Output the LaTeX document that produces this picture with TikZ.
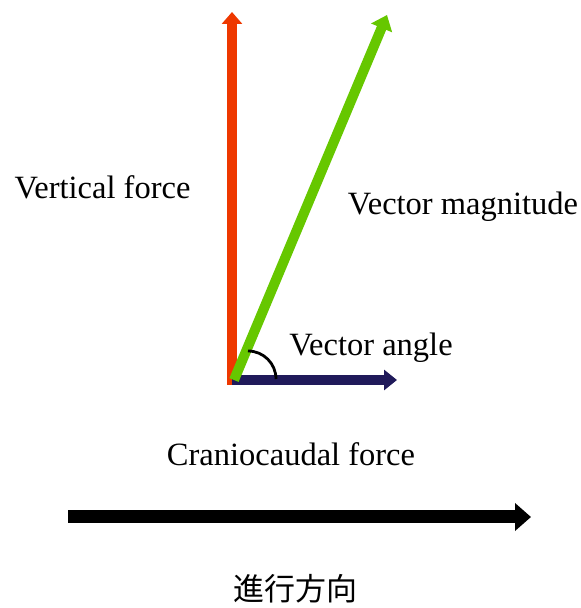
\documentclass[tikz,border=0pt]{standalone}
\usepackage{fontspec}
\setmainfont{Liberation Serif}
\newfontfamily\jpfont{Noto Sans CJK JP}
\usepackage{xcolor}
\usetikzlibrary{arrows.meta}

\definecolor{forcered}{RGB}{238,56,0}
\definecolor{forcegreen}{RGB}{102,199,0}
\definecolor{forcenavy}{RGB}{32,26,90}

\begin{document}
\begin{tikzpicture}[x=1pt,y=1pt,
  lbl/.style={inner sep=0pt,font=\fontsize{32.5}{39}\selectfont},
  vec/.style={line cap=butt}]
  \useasboundingbox (0,0) rectangle (581,608);
  % vectors
  \coordinate (o) at (234,228);
  \coordinate (rstart) at (232,223);
  \coordinate (vtop) at (232,596);
  \coordinate (mtop) at (387,593);
  \coordinate (cend) at (397,228);
  \coordinate (ostart) at (232,228);
  \draw[vec, forcered, line width=9.5pt, -{Triangle[width=20pt,length=12pt]}] (rstart) -- (vtop);
  \draw[vec, forcenavy, line width=10pt, -{Triangle[width=20pt,length=13pt]}] (ostart) -- (cend);
  \draw[vec, forcegreen, line width=10pt, -{Triangle[width=22pt,length=14pt]}] (o) -- (mtop);
  % angle
  \draw[line width=2.8pt] (248,257) arc[start angle=90,end angle=0,radius=28];
  % direction of travel
  \coordinate (dstart) at (68,91);
  \coordinate (dend) at (531,91);
  \draw[line width=13pt, -{Triangle[width=27pt,length=16pt]}] (dstart) -- (dend);
  % labels
  \node[lbl] (vf) at (102.5,421) {Vertical force};
  \node[lbl] (vm) at (463,401) {Vector magnitude};
  \node[lbl] (va) at (371,260) {Vector angle};
  \node[lbl] (cf) at (291,154) {Craniocaudal force};
  \node[lbl, font=\fontsize{31}{38}\jpfont] (dir) at (295,19) {進行方向};
\end{tikzpicture}
\end{document}
